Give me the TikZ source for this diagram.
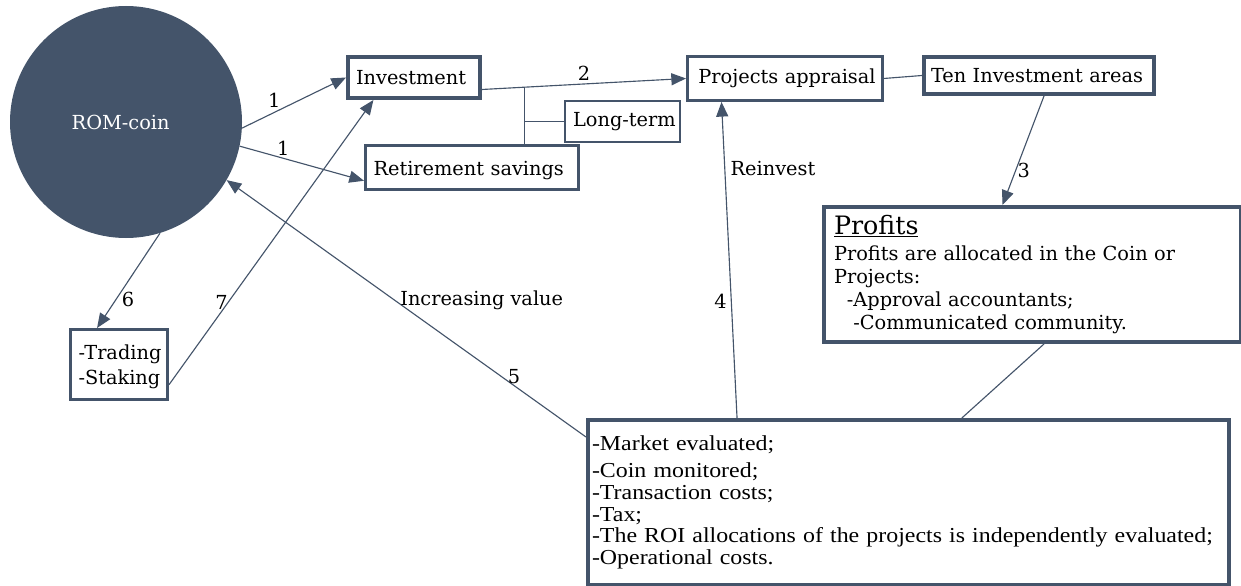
\documentclass[tikz,border=0pt]{standalone}
\usepackage{fontspec}
\setmainfont{DejaVu Serif}
\newfontfamily\timesfont[FakeStretch=1.12]{Liberation Serif}
\usetikzlibrary{arrows.meta,calc}
\definecolor{slate}{HTML}{44546A}
\newcommand\mainsz{\fontsize{14.5}{17}\selectfont}
\begin{document}
\begin{tikzpicture}[x=0.75pt,y=-0.75pt,
  conn/.style={draw=slate, line width=0.85pt},
  arr/.style={conn, -{Triangle[length=11pt,width=9pt]}},
  bx/.style={draw=slate, fill=white, anchor=north west, inner ysep=0pt, align=left, font=\mainsz},
  lbl/.style={font=\mainsz, inner sep=1pt}]
\useasboundingbox (0,0) rectangle (1241,585);
% nodes
\node[circle, fill=slate, minimum size=174pt, inner sep=0pt, text=white, font=\fontsize{14.5}{17}\selectfont] (circ) at (126,122) {\hspace*{-8pt}ROM-coin};
\node[bx, line width=3pt, inner xsep=5.5pt, minimum width=99pt, minimum height=30.75pt, text width=87pt] (inv) at (346,55) {\mbox{Investment}};
\node[bx, line width=2.25pt, inner xsep=5.5pt, minimum width=159.75pt, minimum height=33pt, text width=147.75pt, text height=14.5pt] (ret) at (364,144) {\mbox{Retirement savings}};
\node[bx, line width=1.6pt, inner xsep=6pt, minimum width=86.25pt, minimum height=30.75pt, text width=74.25pt, align=center] (long) at (564,100) {\mbox{Long-term}};
\node[bx, line width=2.2pt, inner xsep=7.5pt, minimum width=146.25pt, minimum height=33pt, text width=129.75pt] (proj) at (686,55) {\mbox{Projects appraisal}};
\node[bx, line width=3pt, inner xsep=5pt, minimum width=172.5pt, minimum height=27.75pt, text width=162pt] (ten) at (922,55) {\mbox{Ten Investment areas}};
\node[bx, line width=3pt, inner xsep=7pt, minimum width=312.75pt, minimum height=101.25pt, text width=297.75pt] (prof) at (822,205)
  {{\fontsize{19}{21}\selectfont\underline{Profits}}\\[2pt]
   \fontsize{14.5}{17.5}\selectfont Profits are allocated in the Coin or\\
   Projects:\\
   \ \ -Approval accountants;\\
   \ \ \ -Communicated community.};
\node[bx, line width=3pt, inner xsep=3pt, minimum width=480.75pt, minimum height=123.75pt, text width=474.75pt, font=\timesfont\fontsize{16}{16.2}\selectfont] (bot) at (586,418)
  {-Market evaluated;\\[4pt]
   -Coin monitored;\\
   -Transaction costs;\\
   -Tax;\\
   \mbox{-The ROI allocations of the projects is independently evaluated;}\\
   -Operational costs.};
\node[bx, line width=2.25pt, inner xsep=5pt, minimum width=72.75pt, minimum height=52.5pt, text width=60.75pt, text height=15pt, font=\fontsize{14.5}{18.75}\selectfont] (trade) at (69,328)
  {\mbox{-Trading}\\\mbox{-Staking}};
% connectors
\draw[arr] (circ.-3) -- node[lbl, pos=0.31, above=2pt] {1} (inv.west);
\draw[arr] (circ.-12.4) -- node[lbl, pos=0.35, above=1pt] {1} (ret.187.5);
\draw[arr] (circ.-73.8) -- node[lbl, pos=0.7, right=3pt] {6} (trade.121);
\draw[arr] (trade.-22.4) -- node[lbl, pos=0.29, left=-1pt] {7} (inv.209);
\draw[arr] (inv.-10.7) -- node[pos=0.21, coordinate] (jt) {} node[lbl, pos=0.5, above=1pt] {2} (proj.west);
\draw[conn] (jt) -- (jt |- ret.north);
\draw[conn] (jt |- long.west) -- (long.west);
\draw[conn] (proj.east) -- (ten.west);
\draw[arr] ([xshift=3.75pt]ten.south) -- node[lbl, pos=0.68, right=0pt] {3} ([xshift=-22.5pt]prof.north);
\draw[conn] ([xshift=8.6pt]prof.south) -- ([xshift=40pt]bot.north);
\draw[arr] ([xshift=-128.6pt]bot.north) -- node[lbl, pos=0.79, anchor=west, xshift=3pt] {Reinvest} node[lbl, pos=0.37, left=2pt] {4} ([xshift=-47.6pt]proj.south);
\draw[arr] ($(bot.north west)+(0,19)$) -- node[lbl, pos=0.2, above=0pt] {5} node[lbl, pos=0.533, anchor=west, xshift=3pt] {Increasing value} (circ.-30);
\end{tikzpicture}
\end{document}
